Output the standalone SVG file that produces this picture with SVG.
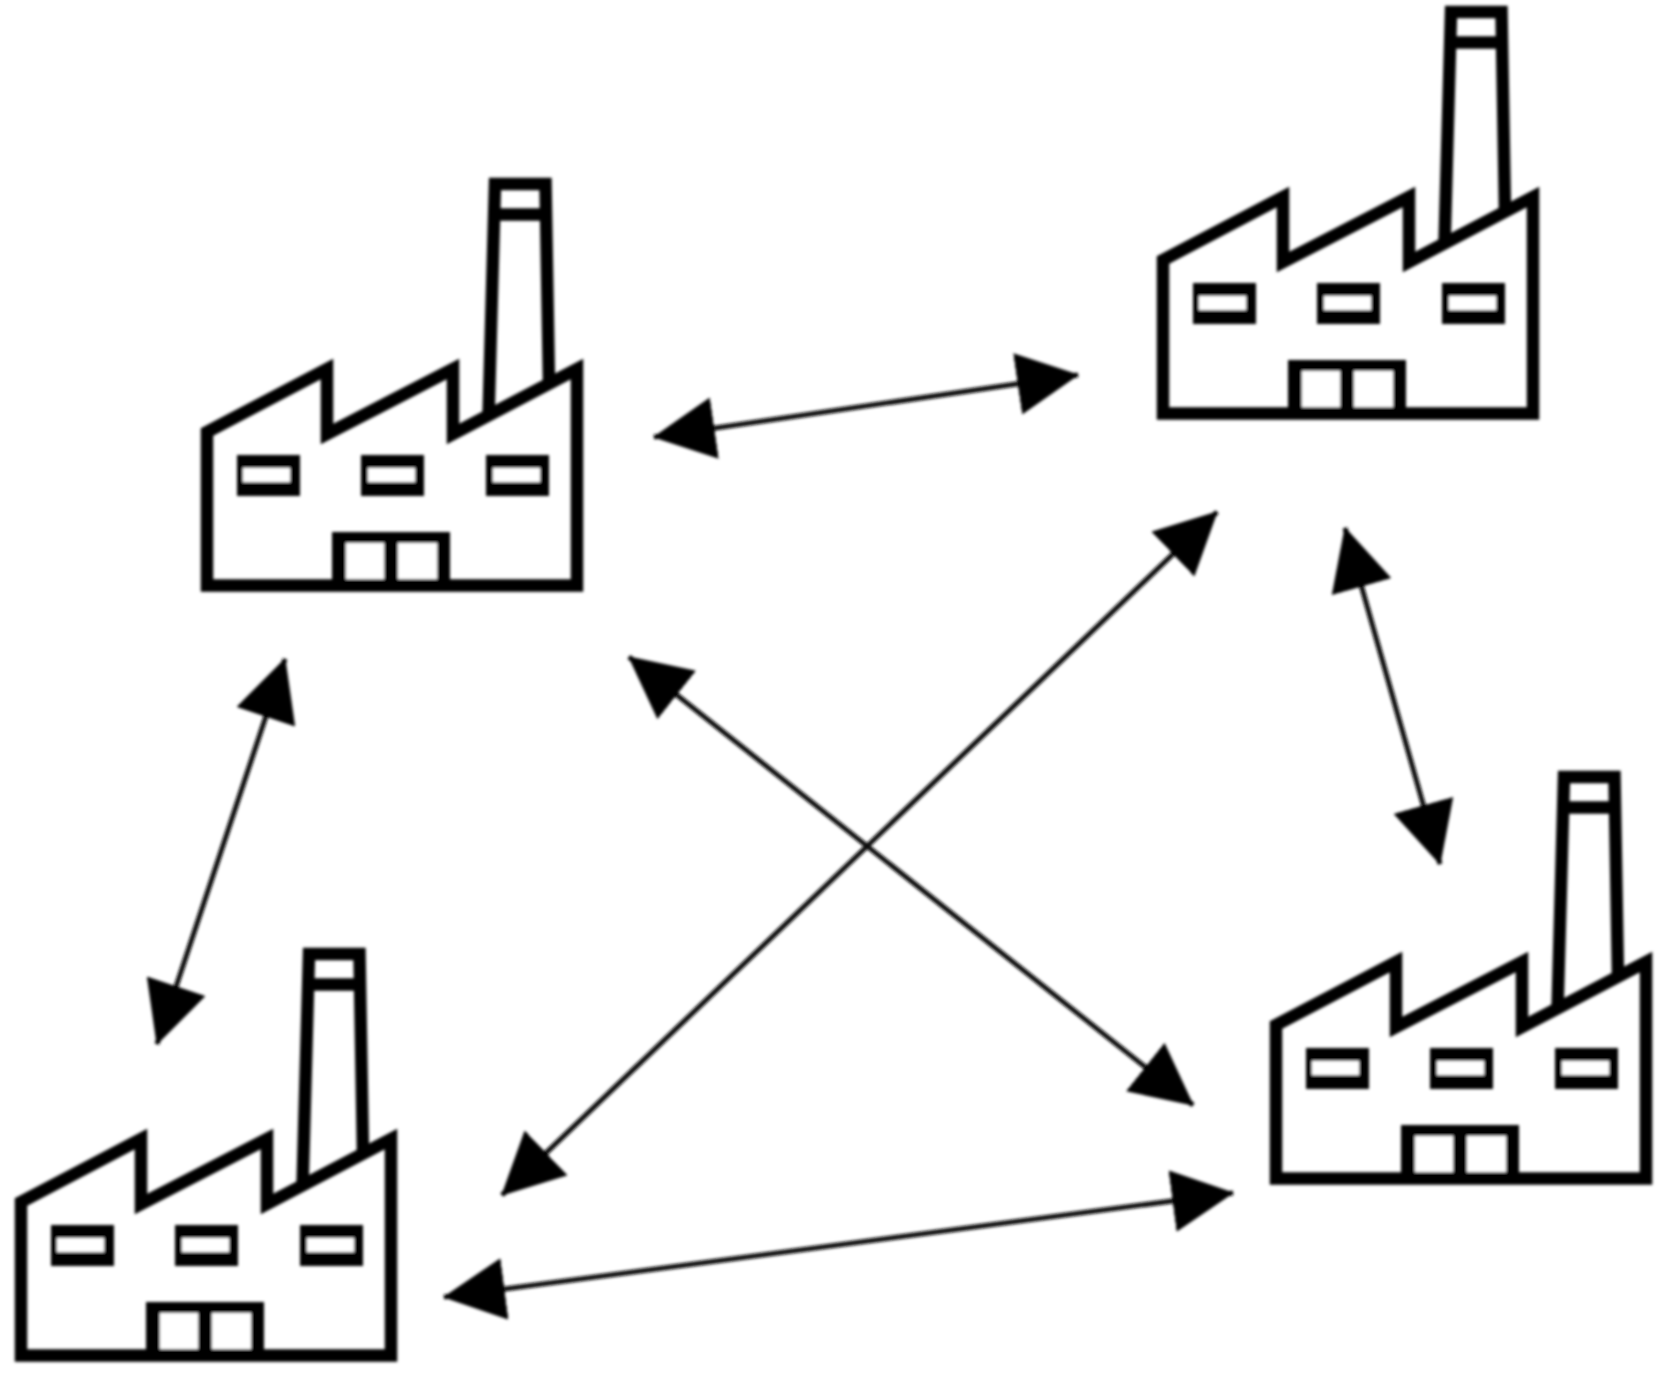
<svg xmlns="http://www.w3.org/2000/svg" width="1667" height="1373" viewBox="0 0 1667 1373">
<style>
.l{fill:none;stroke:#000;stroke-width:12.500;stroke-linejoin:miter;stroke-miterlimit:3}
.b{fill:#000}.w{fill:#fff}
.c{stroke:#111;stroke-width:5;fill:none;marker-start:url(#ah);marker-end:url(#ah)}
</style>
<defs>
<filter id="soft" x="-5%" y="-5%" width="110%" height="110%"><feGaussianBlur stdDeviation="1.6"/></filter>
<marker id="ah" markerUnits="userSpaceOnUse" markerWidth="62" markerHeight="62" viewBox="0 0 60 60" refX="59" refY="30" orient="auto-start-reverse"><path d="M0 0L60 30L0 60Z" fill="#000"/></marker>
<g id="factory">
<path class="l" d="M488.500 417L495 184H545.500L549 384M490 214.500H547"/>
<path class="l" d="M207 432L327 369V434L453 369V434L577 369V585.500H207Z"/>
<rect class="b" x="237" y="455" width="63" height="41"/><rect class="w" x="243" y="468" width="47" height="14"/>
<rect class="b" x="361" y="455" width="63" height="41"/><rect class="w" x="368" y="468" width="47" height="14"/>
<rect class="b" x="486" y="455" width="63" height="41"/><rect class="w" x="493" y="468" width="47" height="14"/>
<rect class="b" x="332" y="532" width="118" height="53"/><rect class="w" x="346" y="543" width="38" height="36"/><rect class="w" x="398" y="543" width="39" height="36"/>
</g>
</defs>
<rect width="1667" height="1373" fill="#fff"/>
<g filter="url(#soft)">
<g id="connectors">
<line class="c" x1="654" y1="437" x2="1078" y2="375"/>
<line class="c" x1="285" y1="659" x2="157" y2="1044"/>
<line class="c" x1="1217" y1="512" x2="502" y2="1195"/>
<line class="c" x1="629" y1="657" x2="1193" y2="1105"/>
<line class="c" x1="1345" y1="528" x2="1440" y2="864"/>
<line class="c" x1="444" y1="1297" x2="1233" y2="1193"/>
</g>
<g id="factory-nw"><use href="#factory"/></g>
<g id="factory-ne"><use href="#factory" x="956" y="-172"/></g>
<g id="factory-se"><use href="#factory" x="1069" y="593"/></g>
<g id="factory-sw"><use href="#factory" x="-186" y="770"/></g>
</g>
</svg>
